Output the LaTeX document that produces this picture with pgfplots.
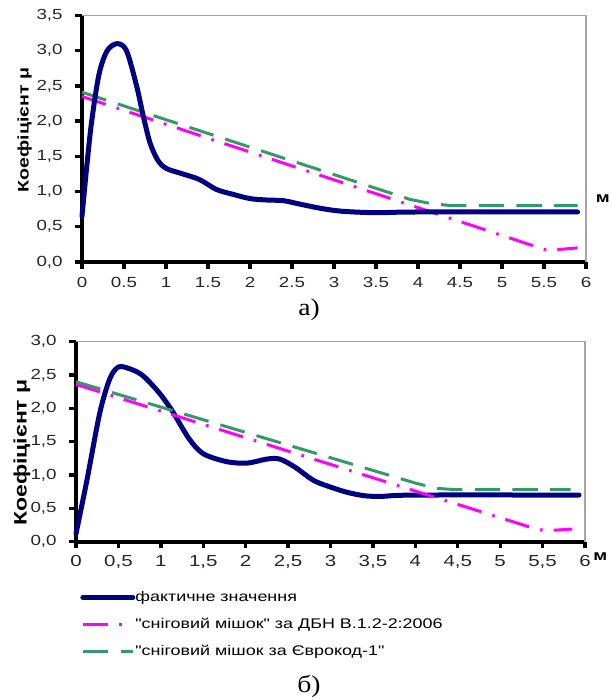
\documentclass[border=0pt]{standalone}
\usepackage{fontspec}
\setmainfont{Liberation Sans}[Ligatures=TeXOff]
\newfontfamily\capfont{Liberation Serif}
\usepackage{graphicx}
\usepackage{pgfplots}
\pgfplotsset{compat=1.18}
\definecolor{cfact}{HTML}{000080}
\definecolor{cdbn}{HTML}{FF00FF}
\definecolor{ceuro}{HTML}{339966}
% the source figure is stretched sideways
\newcommand{\sx}[1]{\scalebox{1.28}[1]{#1}}

\pgfplotsset{
  panel/.style={
    scale only axis, anchor=south west,
    xmin=0, xmax=6, ymin=0,
    xtick={0,0.5,1,1.5,2,2.5,3,3.5,4,4.5,5,5.5,6},
    axis x line*=bottom, axis y line*=left,
    axis line style={line width=3pt, -},
    tick align=outside, major tick length=5pt,
    tick style={line width=2.5pt, black},
    /pgf/number format/assume math mode=true,
    tick label style={font=\fontsize{11}{13}\selectfont, text=black!85},
    yticklabel={\sx{\pgfmathprintnumber[fixed,fixed zerofill,precision=1,use comma]{\tick}}},
    yticklabel style={xshift=-6pt},
    clip=false,
  },
  factline/.style={color=cfact, line width=3.75pt, line cap=round, smooth, tension=0.5},
  dbnline/.style={color=cdbn, line width=2.25pt, dash pattern=on 18.75pt off 8.5pt on 2pt off 8.25pt},
  euroline/.style={color=ceuro, line width=2.25pt, dash pattern=on 19pt off 9.25pt},
}

\begin{document}
\begin{tikzpicture}
\useasboundingbox (0,0) rectangle (458.25pt,525pt);

% panel a
\begin{axis}[panel, at={(61.5pt,328.5pt)}, width=378pt, height=184.9pt,
  ymax=3.5, ytick={0,0.5,1,1.5,2,2.5,3,3.5},
  xticklabel={\sx{\pgfmathprintnumber{\tick}}},
  xticklabel style={yshift=-3pt},
  ylabel={\sx{\bfseries Коефіцієнт μ}},
  ylabel style={at={(axis description cs:-0.114,0.535)}, anchor=center, font=\fontsize{11.5}{13}\selectfont},
]
\addplot[euroline] coordinates {(0,2.41) (3.9,0.89) (4.15,0.83) (4.4,0.80) (5.9,0.80)};
\addplot[dbnline] coordinates {(0,2.35) (5.5,0.18) (5.6,0.17) (5.9,0.20)};
\addplot[factline] coordinates {
  (0,0.65) (0.1,1.85) (0.2,2.65) (0.3,3.0) (0.42,3.1) (0.53,3.0) (0.65,2.5)
  (0.73,2.07) (0.81,1.69) (0.9,1.45) (1.0,1.33) (1.2,1.25) (1.4,1.17) (1.6,1.03)
  (1.8,0.96) (2.0,0.9) (2.2,0.88) (2.4,0.87) (2.6,0.82) (2.85,0.76) (3.1,0.72)
  (3.5,0.70) (4.0,0.71) (5.9,0.71)};
\draw[gray!70, line width=0.8pt] (rel axis cs:0,1) -- (rel axis cs:1,1) -- (rel axis cs:1,0);
\node[font=\bfseries\fontsize{11}{12}\selectfont] at (axis cs:6.2,0.9) {\sx{м}};
\end{axis}

% panel b
\begin{axis}[panel, at={(57pt,118.7pt)}, width=381.75pt, height=150pt,
  ymax=3, ytick={0,0.5,1,1.5,2,2.5,3},
  xticklabel={\sx{\pgfmathprintnumber[use comma]{\tick}}},
  xticklabel style={font=\fontsize{12}{14}\selectfont, yshift=-2pt},
  ylabel={\sx{\bfseries Коефіцієнт μ}},
  ylabel style={at={(axis description cs:-0.106,0.446)}, anchor=center, font=\fontsize{13.5}{15}\selectfont},
  legend cell align=left,
  legend image code/.code={\draw[#1] (0pt,0pt) -- (37.5pt,0pt);},
  legend style={at={(axis description cs:0.008,-0.242)}, anchor=north west,
    draw=none, fill=none, inner sep=0pt, row sep=9.75pt, column sep=0pt,
    font=\fontsize{10.5}{12}\selectfont,
    nodes={inner sep=0pt, text height=8pt, text depth=2.5pt}},
]
\addplot[factline] coordinates {
  (0,0.12) (0.13,0.93) (0.28,1.93) (0.4,2.45) (0.5,2.62) (0.62,2.6) (0.78,2.5)
  (0.97,2.25) (1.13,1.97) (1.33,1.55) (1.5,1.32) (1.78,1.2) (2.02,1.18) (2.25,1.24)
  (2.4,1.24) (2.58,1.12) (2.8,0.92) (3.0,0.82) (3.2,0.74) (3.4,0.69) (3.6,0.68)
  (4.0,0.70) (5.93,0.70)};
\addlegendentry{\sx{фактичне значення}}
\addplot[dbnline] coordinates {(0,2.36) (5.45,0.18) (5.6,0.17) (5.85,0.19)};
\addlegendentry{\sx{"сніговий мішок" за ДБН В.1.2-2:2006}}
\addplot[euroline] coordinates {(0,2.40) (4.0,0.88) (4.25,0.80) (4.5,0.78) (5.83,0.78)};
\addlegendentry{\sx{"сніговий мішок за Єврокод-1"}}
\draw[gray!70, line width=0.8pt] (rel axis cs:0,1) -- (rel axis cs:1,1) -- (rel axis cs:1,0);
\node[font=\bfseries\fontsize{11}{12}\selectfont] at (axis cs:6.18,-0.22) {\sx{м}};
\end{axis}

\node[font=\capfont\fontsize{18}{20}\selectfont] at (231.75pt,292.5pt) {\scalebox{1.15}[1]{а)}};
\node[font=\capfont\fontsize{18}{20}\selectfont] at (231.75pt,10.5pt) {\scalebox{1.15}[1]{б)}};
\end{tikzpicture}
\end{document}
